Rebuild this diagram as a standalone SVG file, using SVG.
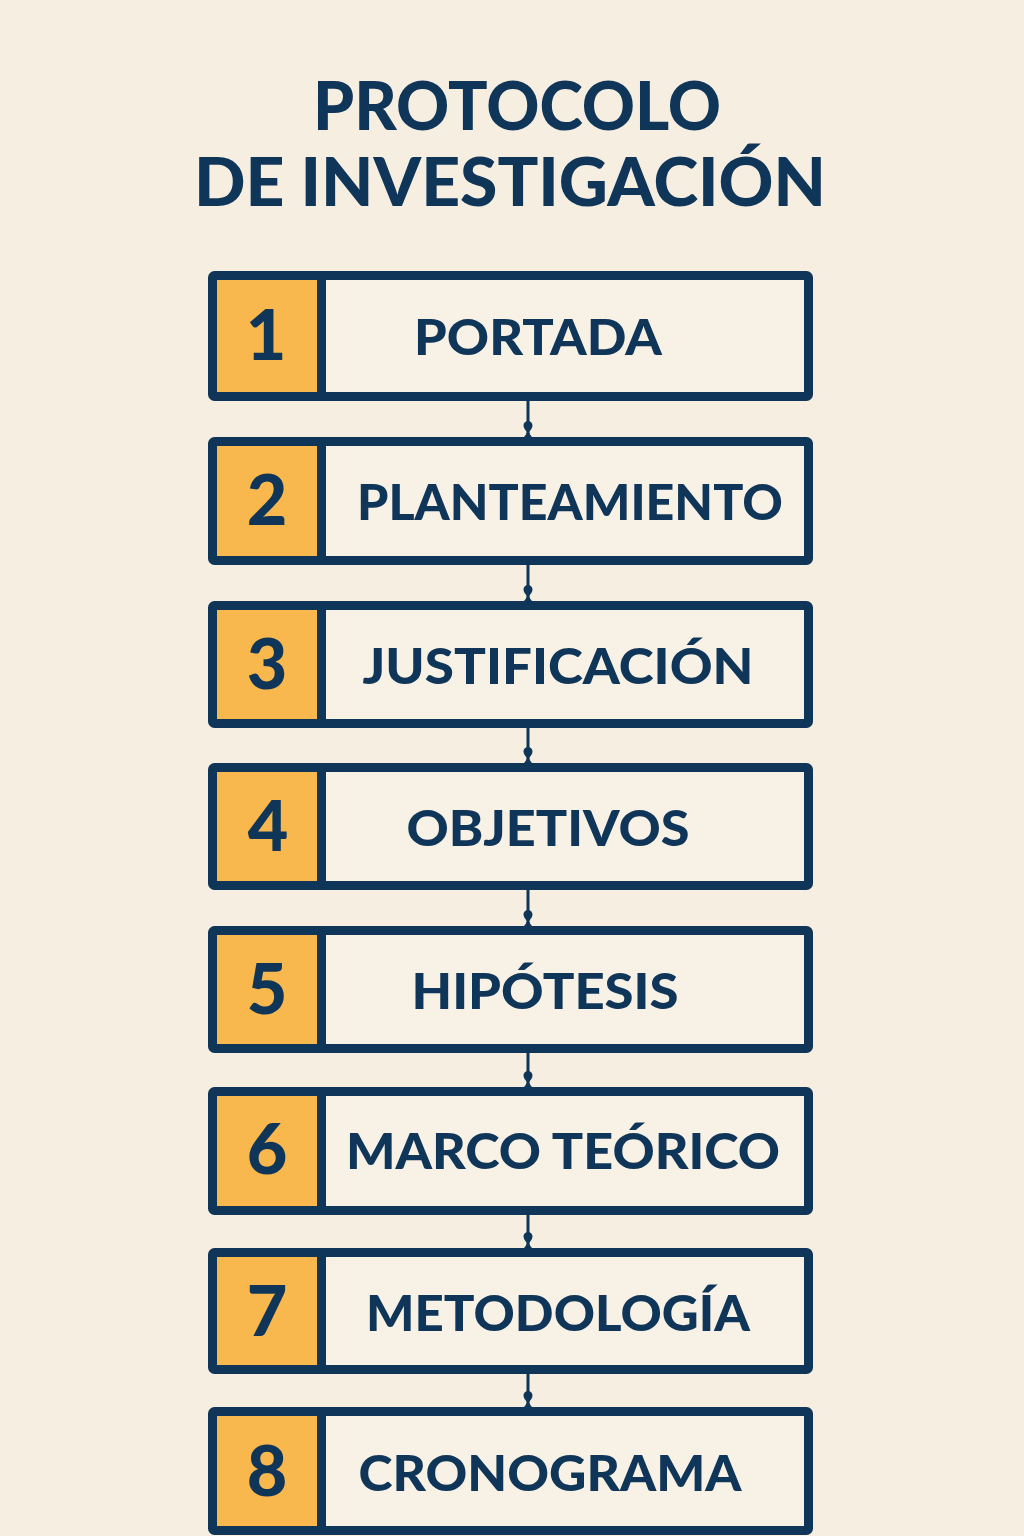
<svg xmlns="http://www.w3.org/2000/svg" width="1024" height="1536" viewBox="0 0 1024 1536">
<defs>
<style>
.bg{fill:#F6EEE0}
.frame{fill:#F8F1E5;stroke:#0F3558;stroke-width:9;stroke-linejoin:round}
.num{fill:#F8B84E}
.div{stroke:#0F3558;stroke-width:9}
.t{font-family:Lato,"Open Sans",sans-serif;font-weight:900;fill:#0F3558}
.title{font-size:66px;text-anchor:middle}
.n{font-size:70px;text-anchor:middle}
.lbl{font-size:50px;text-anchor:middle}
.con{stroke:#0F3558;stroke-width:3;fill:none}
.tip{fill:#0F3558}
</style>
<path id="drop" d="M0,-6 C3,-6 4.5,-3.5 4.5,-1.5 C4.5,1.5 2,3 1.5,5 C1.5,7 3,9 4,10 L-4,10 C-3,9 -1.5,7 -1.5,5 C-2,3 -4.5,1.5 -4.5,-1.5 C-4.5,-3.5 -3,-6 0,-6 Z"/>
</defs>
<rect class="bg" x="0" y="0" width="1024" height="1536"/>
<g id="title">
<text class="t title" x="517" y="130" textLength="408" lengthAdjust="spacingAndGlyphs">PROTOCOLO</text>
<text class="t title" x="510" y="206" textLength="632" lengthAdjust="spacingAndGlyphs">DE INVESTIGACIÓN</text>
</g>
<g id="connectors">
<line class="con" x1="528" y1="401" x2="528" y2="430"/>
<use class="tip" href="#drop" x="528" y="427"/>
<line class="con" x1="528" y1="565" x2="528" y2="594"/>
<use class="tip" href="#drop" x="528" y="591"/>
<line class="con" x1="528" y1="728" x2="528" y2="756"/>
<use class="tip" href="#drop" x="528" y="753"/>
<line class="con" x1="528" y1="890" x2="528" y2="919"/>
<use class="tip" href="#drop" x="528" y="916"/>
<line class="con" x1="528" y1="1053" x2="528" y2="1080"/>
<use class="tip" href="#drop" x="528" y="1077"/>
<line class="con" x1="528" y1="1215" x2="528" y2="1241"/>
<use class="tip" href="#drop" x="528" y="1238"/>
<line class="con" x1="528" y1="1374" x2="528" y2="1400"/>
<use class="tip" href="#drop" x="528" y="1397"/>
</g>
<g id="step1">
<rect class="frame" x="212.5" y="275.5" width="596" height="121" rx="2"/>
<rect class="num" x="217" y="280" width="100" height="112"/>
<line class="div" x1="321.5" y1="280" x2="321.5" y2="392"/>
<text class="t n" x="266" y="360">1</text>
<text class="t lbl" x="538" y="355" textLength="248" lengthAdjust="spacingAndGlyphs">PORTADA</text>
</g>
<g id="step2">
<rect class="frame" x="212.5" y="441.5" width="596" height="119" rx="2"/>
<rect class="num" x="217" y="446" width="100" height="110"/>
<line class="div" x1="321.5" y1="446" x2="321.5" y2="556"/>
<text class="t n" x="267" y="525">2</text>
<text class="t lbl" x="570" y="520" textLength="426" lengthAdjust="spacingAndGlyphs">PLANTEAMIENTO</text>
</g>
<g id="step3">
<rect class="frame" x="212.5" y="605.5" width="596" height="118" rx="2"/>
<rect class="num" x="217" y="610" width="100" height="109"/>
<line class="div" x1="321.5" y1="610" x2="321.5" y2="719"/>
<text class="t n" x="267" y="689">3</text>
<text class="t lbl" x="558" y="684" textLength="391" lengthAdjust="spacingAndGlyphs">JUSTIFICACIÓN</text>
</g>
<g id="step4">
<rect class="frame" x="212.5" y="767.5" width="596" height="118" rx="2"/>
<rect class="num" x="217" y="772" width="100" height="109"/>
<line class="div" x1="321.5" y1="772" x2="321.5" y2="881"/>
<text class="t n" x="268" y="851">4</text>
<text class="t lbl" x="548" y="846" textLength="283" lengthAdjust="spacingAndGlyphs">OBJETIVOS</text>
</g>
<g id="step5">
<rect class="frame" x="212.5" y="930.5" width="596" height="118" rx="2"/>
<rect class="num" x="217" y="935" width="100" height="109"/>
<line class="div" x1="321.5" y1="935" x2="321.5" y2="1044"/>
<text class="t n" x="267" y="1014">5</text>
<text class="t lbl" x="545" y="1009" textLength="267" lengthAdjust="spacingAndGlyphs">HIPÓTESIS</text>
</g>
<g id="step6">
<rect class="frame" x="212.5" y="1091.5" width="596" height="119" rx="2"/>
<rect class="num" x="217" y="1096" width="100" height="110"/>
<line class="div" x1="321.5" y1="1096" x2="321.5" y2="1206"/>
<text class="t n" x="267" y="1174">6</text>
<text class="t lbl" x="563" y="1169" textLength="434" lengthAdjust="spacingAndGlyphs">MARCO TEÓRICO</text>
</g>
<g id="step7">
<rect class="frame" x="212.5" y="1252.5" width="596" height="117" rx="2"/>
<rect class="num" x="217" y="1257" width="100" height="108"/>
<line class="div" x1="321.5" y1="1257" x2="321.5" y2="1365"/>
<text class="t n" x="267" y="1336">7</text>
<text class="t lbl" x="558" y="1331" textLength="384" lengthAdjust="spacingAndGlyphs">METODOLOGÍA</text>
</g>
<g id="step8">
<rect class="frame" x="212.5" y="1411.5" width="596" height="119" rx="2"/>
<rect class="num" x="217" y="1416" width="100" height="110"/>
<line class="div" x1="321.5" y1="1416" x2="321.5" y2="1526"/>
<text class="t n" x="267" y="1496">8</text>
<text class="t lbl" x="550" y="1491" textLength="383" lengthAdjust="spacingAndGlyphs">CRONOGRAMA</text>
</g>
</svg>
